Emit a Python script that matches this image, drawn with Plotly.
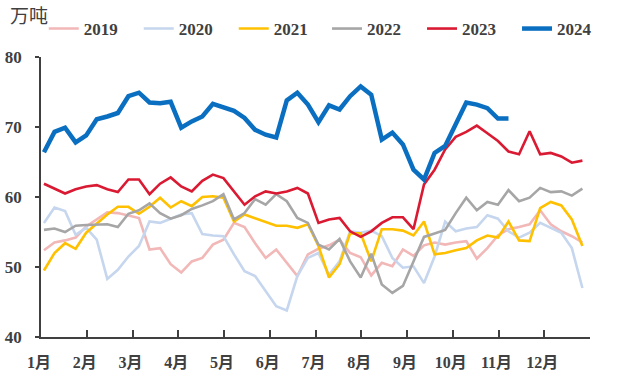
import plotly.graph_objects as go

# Weekly volumes (万吨), week 1..52 of each year
weeks = list(range(1, 53))
months = ["1月", "2月", "3月", "4月", "5月", "6月", "7月", "8月", "9月", "10月", "11月", "12月"]

y2019 = [52.4, 53.5, 53.8, 54.2, 55.8, 56.8, 57.8, 57.7, 57.4, 57.0, 52.5, 52.7, 50.4,
         49.2, 50.8, 51.3, 53.2, 53.9, 56.3, 55.7, 53.4, 51.3, 52.5, 50.6, 48.7, 51.8,
         52.6, 53.1, 53.9, 52.0, 51.4, 48.8, 50.6, 50.1, 52.5, 51.6, 53.1, 53.5, 53.2,
         53.5, 53.7, 51.2, 52.7, 54.5, 55.4, 55.7, 56.1, 58.1, 56.1, 55.1, 54.4, 53.5]
y2020 = [56.3, 58.5, 58.0, 54.6, 55.6, 53.9, 48.3, 49.6, 51.5, 53.0, 56.5, 56.3, 56.9,
         57.5, 57.7, 54.7, 54.5, 54.4, 51.8, 49.4, 48.7, 46.5, 44.4, 43.8, 48.7, 51.3,
         52.0, 48.9, 50.8, 55.1, 54.9, 55.2, 54.4, 51.3, 49.9, 50.1, 47.7, 51.5, 56.5,
         55.1, 55.5, 55.7, 57.4, 56.9, 55.1, 54.2, 54.9, 56.3, 55.6, 54.9, 52.7, 47.0]
y2021 = [49.5, 52.0, 53.4, 52.6, 54.9, 56.2, 57.5, 58.6, 58.6, 57.6, 58.6, 59.9, 58.5,
         59.4, 58.7, 60.0, 60.1, 59.9, 56.5, 57.5, 57.0, 56.5, 55.9, 55.9, 55.6, 56.1,
         53.0, 48.5, 50.4, 54.8, 54.8, 50.8, 55.4, 55.4, 55.2, 54.5, 56.5, 51.8, 52.0,
         52.4, 52.7, 53.8, 54.5, 54.2, 56.5, 53.8, 53.7, 58.4, 59.3, 58.8, 56.8, 53.0]
y2022 = [55.3, 55.5, 55.0, 55.9, 56.0, 56.0, 56.1, 55.7, 57.6, 58.1, 59.1, 57.7, 56.9,
         57.4, 58.3, 58.8, 59.4, 60.4, 56.8, 57.7, 59.7, 58.9, 60.4, 59.4, 57.0, 56.3,
         53.2, 52.5, 54.0, 50.8, 48.5, 51.9, 47.5, 46.3, 47.3, 50.8, 54.3, 54.8, 55.3,
         57.7, 59.9, 58.1, 59.3, 58.9, 61.0, 59.4, 59.9, 61.3, 60.7, 60.8, 60.2, 61.2]
y2023 = [61.9, 61.2, 60.5, 61.1, 61.5, 61.7, 61.1, 60.7, 62.5, 62.5, 60.4, 61.9, 62.8,
         61.5, 60.8, 62.3, 63.2, 62.7, 60.8, 58.9, 60.1, 60.8, 60.5, 60.8, 61.3, 60.5,
         56.3, 56.8, 57.0, 55.1, 54.3, 55.1, 56.3, 57.1, 57.1, 55.4, 61.8, 63.9, 66.8,
         68.6, 69.3, 70.2, 69.1, 68.0, 66.5, 66.1, 69.4, 66.1, 66.3, 65.8, 64.9, 65.2]
y2024 = [66.4, 69.3, 69.9, 67.8, 68.8, 71.1, 71.5, 72.0, 74.4, 74.9, 73.5, 73.4, 73.6,
         69.9, 70.8, 71.5, 73.3, 72.8, 72.3, 71.3, 69.6, 68.9, 68.5, 73.8, 74.9, 73.2,
         70.7, 73.1, 72.5, 74.4, 75.8, 74.6, 68.2, 69.2, 67.5, 63.9, 62.5, 66.3, 67.3,
         70.4, 73.5, 73.2, 72.7, 71.2, 71.2]

# name, values, colour, width, legend block (two blocks side by side)
series = [
    ("2019", y2019, "#F2B7B7", 2.6, "legend"),
    ("2020", y2020, "#C5D6EE", 2.6, "legend"),
    ("2021", y2021, "#FFC000", 2.6, "legend"),
    ("2022", y2022, "#A6A6A6", 2.6, "legend2"),
    ("2023", y2023, "#DA1A32", 2.6, "legend2"),
    ("2024", y2024, "#0A6FC0", 4.5, "legend2"),
]

fig = go.Figure()
for name, vals, color, width, leg in series:
    fig.add_trace(go.Scatter(
        x=weeks[:len(vals)], y=vals, name=name, mode="lines",
        line=dict(color=color, width=width, shape="linear"),
        legend=leg,
    ))

# month boundaries: each month spans 52/12 weeks
x0 = 0.72
month_len = 52 / 12
month_ticks = [x0 + k * month_len for k in range(12)]

font_family = "Liberation Serif, Times New Roman, Noto Sans CJK SC, serif"
text_color = "#404040"
axis_color = "#404040"

legend_style = dict(
    orientation="h", xanchor="left", y=1.10, yanchor="middle",
    font=dict(family=font_family, size=17, color=text_color, weight="bold"),
    entrywidth=50, entrywidthmode="pixels", itemwidth=30,
    bgcolor="rgba(0,0,0,0)",
)

fig.update_layout(
    width=619, height=374,
    margin=dict(l=41, r=29, t=57, b=37, autoexpand=False),
    paper_bgcolor="white", plot_bgcolor="white",
    font=dict(family=font_family, size=16, color=text_color),
    showlegend=True,
    legend=dict(x=0.005, **legend_style),
    legend2=dict(x=0.521, **legend_style),
    xaxis=dict(
        range=[x0, x0 + 12 * month_len],
        tickmode="array", tickvals=month_ticks, ticktext=months,
        ticks="inside", ticklen=7, tickwidth=1.5, tickcolor=axis_color,
        showline=True, linecolor=axis_color, linewidth=1.5,
        showgrid=False, zeroline=False, automargin=False,
        tickfont=dict(family=font_family, size=16, color=text_color, weight="bold"),
        ticklabelstandoff=10, ticklabelshift=-2,
    ),
    yaxis=dict(
        range=[40, 80], tickvals=[40, 50, 60, 70, 80],
        ticks="outside", ticklen=4, tickwidth=1.5, tickcolor=axis_color,
        showline=True, linecolor=axis_color, linewidth=1.5,
        showgrid=False, zeroline=False, automargin=False,
        tickfont=dict(family=font_family, size=17, color=text_color, weight="bold"),
        ticklabelstandoff=10,
    ),
    annotations=[dict(
        text="万吨", xref="paper", yref="paper", x=-0.061, y=1.145,
        xanchor="left", yanchor="middle", showarrow=False,
        font=dict(family=font_family, size=19, color=text_color),
    )],
)

fig.write_html("out.html")
